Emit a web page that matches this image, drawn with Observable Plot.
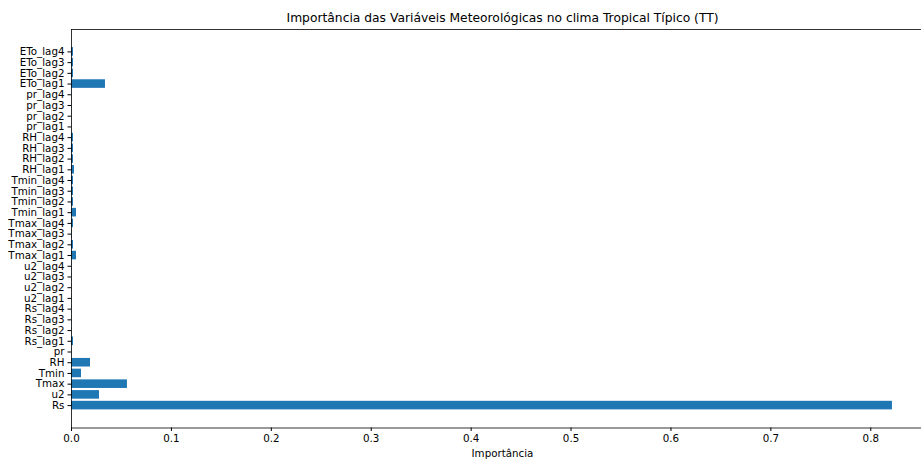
<!DOCTYPE html>
<html>
<head>
<meta charset="utf-8">
<script src="https://cdn.jsdelivr.net/npm/d3@7"></script>
<script src="https://cdn.jsdelivr.net/npm/@observablehq/plot@0.6"></script>
<style>
  html, body { margin: 0; padding: 0; background: #fff; overflow: hidden; }
  #chart svg { display: block; max-width: none !important; height: 459px !important; }
</style>
</head>
<body>
<div id="chart"></div>
<script>
// Variables, from bottom (Rs) to top (ETo_lag4)
const variables = [
  "Rs", "u2", "Tmax", "Tmin", "RH", "pr",
  "Rs_lag1", "Rs_lag2", "Rs_lag3", "Rs_lag4",
  "u2_lag1", "u2_lag2", "u2_lag3", "u2_lag4",
  "Tmax_lag1", "Tmax_lag2", "Tmax_lag3", "Tmax_lag4",
  "Tmin_lag1", "Tmin_lag2", "Tmin_lag3", "Tmin_lag4",
  "RH_lag1", "RH_lag2", "RH_lag3", "RH_lag4",
  "pr_lag1", "pr_lag2", "pr_lag3", "pr_lag4",
  "ETo_lag1", "ETo_lag2", "ETo_lag3", "ETo_lag4"
];
const importance = [
  0.8217, 0.028, 0.056, 0.010, 0.019, 0.0003,
  0.002, 0.0003, 0.0003, 0.0003,
  0.0003, 0.0003, 0.0003, 0.0003,
  0.005, 0.002, 0.0006, 0.002,
  0.005, 0.002, 0.002, 0.002,
  0.003, 0.002, 0.002, 0.002,
  0.0002, 0.0002, 0.0002, 0.0002,
  0.034, 0.002, 0.002, 0.002
];
const xTicks = [0, 0.1, 0.2, 0.3, 0.4, 0.5, 0.6, 0.7, 0.8];
const title = "Importância das Variáveis Meteorológicas no clima Tropical Típico (TT)";
const xLabel = "Importância";

const rows = variables.map((v, i) => ({variable: v, value: importance[i]}));
const xMax = d3.max(importance) * 1.05;

const chart = Plot.plot({
  width: 933,
  height: 459,
  marginTop: 29,
  marginBottom: 31.5,
  marginLeft: 71,
  marginRight: 0,
  style: {fontFamily: "'DejaVu Sans', sans-serif", fontSize: "10.3px", color: "#000", background: "#fff"},
  x: {domain: [0, xMax]},
  y: {domain: variables.slice().reverse(), paddingInner: 0.2, paddingOuter: 1.69, round: false},
  marks: [
    Plot.barX(rows, {x: "value", y: "variable", fill: "#1f77b4"}),
    Plot.frame({stroke: "#000", strokeWidth: 0.8}),
    Plot.axisX({ticks: xTicks, tickFormat: d3.format(".1f"), tickSize: 3.5, tickPadding: 3.5, label: null, fontSize: 10.3}),
    Plot.axisY({tickSize: 3.5, tickPadding: 3.5, label: null, fontSize: 10.3}),
    Plot.text([title], {frameAnchor: "top", dy: -11, text: d => d, fontSize: 12.3, lineAnchor: "middle", fill: "#000"}),
    Plot.text([xLabel], {frameAnchor: "bottom", dy: 25.5, text: d => d, fontSize: 10.3, lineAnchor: "middle", fill: "#000"})
  ]
});
document.getElementById("chart").appendChild(chart);
</script>
</body>
</html>
